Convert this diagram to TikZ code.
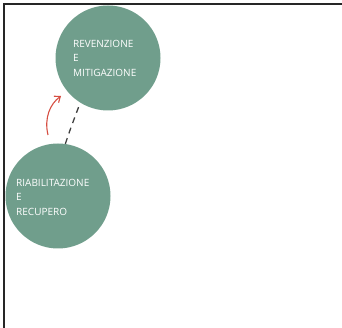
\documentclass[tikz,border=0pt]{standalone}
\usepackage{fontspec}
\setmainfont{Open Sans}
\usetikzlibrary{arrows.meta}
\usetikzlibrary{positioning}
\definecolor{sage}{RGB}{112,158,140}
\definecolor{arrowred}{RGB}{214,78,66}
\tikzset{bubble/.style = {circle, fill = sage, minimum size = 105, inner sep = 0}}
\tikzset{caption/.style = {text = white, font = \fontsize{10}{14.5}\selectfont, align = left, anchor = west, inner sep = 0}}
\tikzset{->-/.style = {-{Straight Barb[length = 5, width = 8]}, arrowred, line width = 1.1}}

\begin{document}
\begin{tikzpicture}[x = 1pt, y = -1pt]
        \useasboundingbox (0, 0) rectangle (342, 328);
        \draw [line width = 2, black!85] (342, 4) -- (4, 4) -- (4, 328);

        \node [bubble] (prev) at (108, 58) {};
        \node [bubble] (riab) at (58, 196) {};
        \node [caption] (prevtext) at (73, 58) {REVENZIONE\\E\\MITIGAZIONE};
        \node [caption] (riabtext) at (16, 197) {RIABILITAZIONE\\E\\RECUPERO};

        \coordinate (arrstart) at (48, 135);
        \coordinate (arrend) at (61, 96);
        \coordinate (dashend) at (79, 106);
        \draw [->-] (arrstart) .. controls (44, 118) and (50, 104) .. (arrend);
        \draw [black!75, dashed, line width = 1.3, dash pattern = on 6 off 5] (riab.82) .. controls (70, 130) .. (dashend);
      \end{tikzpicture}
\end{document}
